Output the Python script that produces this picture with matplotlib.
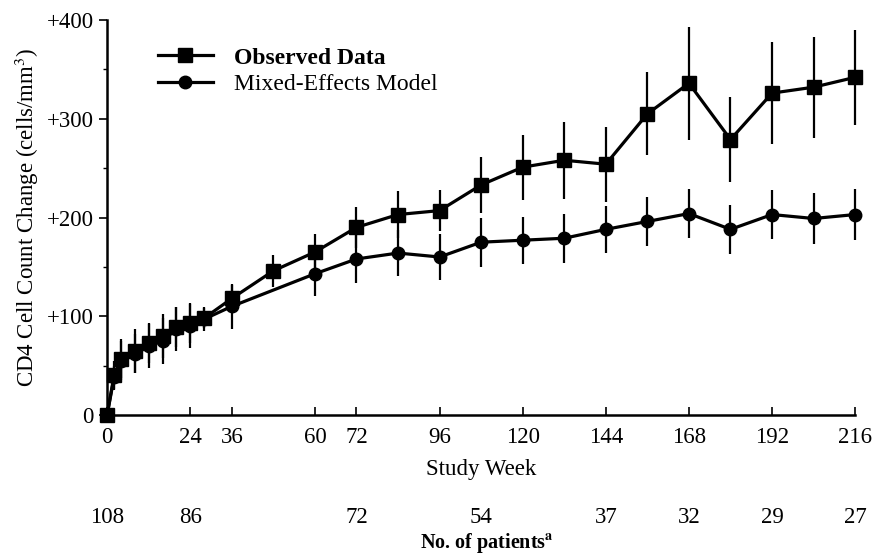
import matplotlib
matplotlib.use('Agg')
import matplotlib.pyplot as plt
from matplotlib.ticker import MultipleLocator

# observed data (squares)
obs_weeks = [0, 2, 4, 8, 12, 16, 20, 24, 28, 36, 48, 60, 72, 84, 96,
             108, 120, 132, 144, 156, 168, 180, 192, 204, 216]
obs_vals = [0, 40, 57, 65, 73, 80, 89, 93, 98, 118, 146, 165, 190, 203, 207,
            233, 251, 258, 254, 305, 336, 279, 326, 332, 342]
obs_err = [0, 15, 20, 22, 20, 22, 20, 20, 10, 14, 16, 18, 21, 24, 21,
           28, 33, 39, 38, 42, 57, 43, 52, 51, 48]

# mixed-effects model (circles)
mod_weeks = [0, 2, 4, 8, 12, 16, 20, 24, 28, 36, 60, 72, 84, 96,
             108, 120, 132, 144, 156, 168, 180, 192, 204, 216]
mod_vals = [0, 38, 55, 62, 70, 75, 87, 90, 97, 110, 143, 158, 164, 160,
            175, 177, 179, 188, 196, 204, 188, 203, 199, 203]
mod_err = [0, 12, 20, 20, 22, 23, 22, 22, 12, 23, 23, 24, 23, 23,
           25, 24, 25, 24, 25, 25, 25, 25, 26, 26]

week_ticks = [0, 24, 36, 60, 72, 96, 120, 144, 168, 192, 216]
patient_weeks = [0, 24, 72, 108, 144, 168, 192, 216]
patient_counts = [108, 86, 72, 54, 37, 32, 29, 27]

plt.rcParams['font.family'] = ['Liberation Serif', 'DejaVu Serif']
plt.rcParams['mathtext.fontset'] = 'stix'

fig = plt.figure(figsize=(8.78, 5.57), dpi=100)
ax = fig.add_axes([0.122, 0.255, 0.852, 0.709])

obs = ax.errorbar(obs_weeks, obs_vals, yerr=obs_err, color='black', marker='s',
                  markersize=10, lw=2.3, elinewidth=1.6, capsize=0,
                  clip_on=False, zorder=3)
mod = ax.errorbar(mod_weeks, mod_vals, yerr=mod_err, color='black', marker='o',
                  markersize=9, lw=2.3, elinewidth=1.6, capsize=0,
                  clip_on=False, zorder=3)

ax.set_xlim(0, 216)
ax.set_ylim(0, 400)
ax.set_xticks(week_ticks)
ax.set_yticks([0, 100, 200, 300, 400])
ax.set_yticklabels(['0', '+100', '+200', '+300', '+400'])
ax.yaxis.set_minor_locator(MultipleLocator(50))
ax.tick_params(axis='x', direction='in', length=6, width=1.2, labelsize=16.5, pad=9)
ax.tick_params(axis='y', which='major', direction='out', length=6, width=1.2, labelsize=16.5)
ax.tick_params(axis='y', which='minor', direction='out', length=3, width=1)

for side in ['top', 'right']:
    ax.spines[side].set_visible(False)
for side in ['left', 'bottom']:
    ax.spines[side].set_linewidth(1.8)

ax.set_ylabel('CD4 Cell Count Change (cells/mm$^3$)', fontsize=16.5, labelpad=4)
ax.text(0.5, -0.138, 'Study Week', transform=ax.transAxes, ha='center',
        va='center', fontsize=16.5)

trans = ax.get_xaxis_transform()
for w, n in zip(patient_weeks, patient_counts):
    ax.text(w, -0.26, str(n), transform=trans, ha='center', va='center',
            fontsize=16.5)
ax.text(0.508, -0.355, r'No. of patients$^{\mathbf{a}}$', transform=ax.transAxes,
        ha='center', va='bottom', fontsize=14.5, fontweight='bold')

leg = ax.legend([obs[0], mod[0]], ['Observed Data', 'Mixed-Effects Model'],
                loc='upper left', bbox_to_anchor=(0.04, 0.985), frameon=False,
                fontsize=17, handlelength=2.3, handletextpad=0.9,
                labelspacing=0.2)
leg.get_texts()[0].set_fontweight('bold')

fig.savefig('out.png', dpi=100)
